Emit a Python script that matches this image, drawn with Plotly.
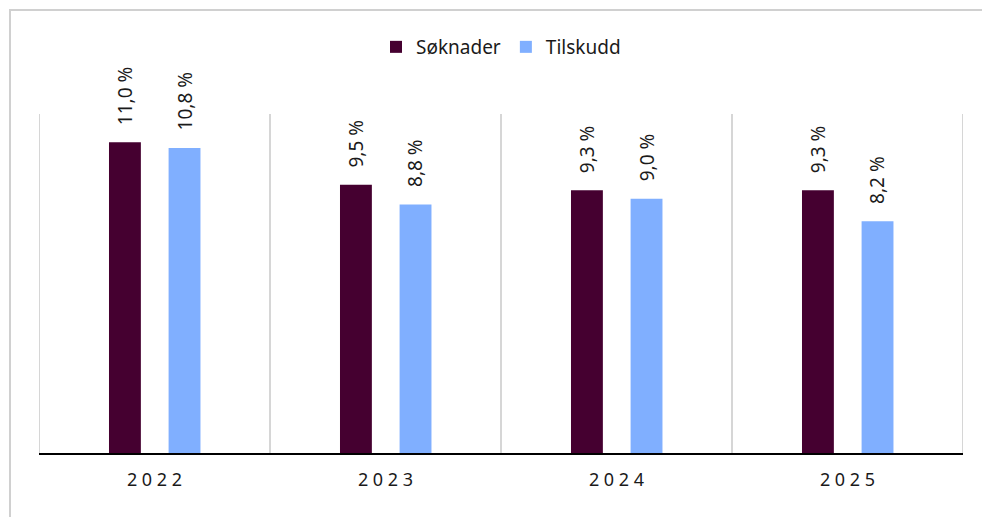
import plotly.graph_objects as go

categories = ["2022", "2023", "2024", "2025"]
tick_labels = ["2 0 2 2", "2 0 2 3", "2 0 2 4", "2 0 2 5"]
soknader = [11.0, 9.5, 9.3, 9.3]
tilskudd = [10.8, 8.8, 9.0, 8.2]
series_names = ["Søknader", "Tilskudd"]
colors = ["#450030", "#80AFFF"]

W, H = 982, 517
ML, MR, MT, MB = 39, 19, 114, 64
FONT = "Noto Sans"

bar_w = 0.138
offsets = [-0.197, 0.061]
xs = list(range(len(categories)))

fig = go.Figure()
annotations = []
for name, vals, col, off in zip(series_names, [soknader, tilskudd], colors, offsets):
    fig.add_trace(go.Bar(
        x=xs, y=vals, name=name, marker=dict(color=col, line=dict(width=0)),
        width=bar_w, offset=off,
    ))
    for i, v in zip(xs, vals):
        annotations.append(dict(
            x=i + off + bar_w / 2, y=v, xref="x", yref="y",
            text=f"{v:.1f}".replace(".", ",") + " %",
            textangle=-90, showarrow=False, yanchor="bottom", xanchor="center",
            yshift=15, font=dict(family=FONT, size=19, color="#1a1a1a"),
        ))

shapes = []
for k in range(len(categories) + 1):
    shapes.append(dict(type="line", xref="x", yref="paper", x0=k - 0.5, x1=k - 0.5,
                       y0=0, y1=1, line=dict(color="#c8c8c8", width=1.5), layer="below"))
pw = W - ML - MR
ph = H - MT - MB
shapes.append(dict(type="rect", xref="paper", yref="paper",
                   x0=(10 - ML) / pw, x1=(995 - ML) / pw,
                   y0=-(530 - (H - MB)) / ph, y1=((H - MB) - 10) / ph,
                   line=dict(color="#d0d0d0", width=2), fillcolor="rgba(0,0,0,0)", layer="below"))

fig.update_layout(
    width=W, height=H, margin=dict(l=ML, r=MR, t=MT, b=MB),
    paper_bgcolor="white", plot_bgcolor="white",
    font=dict(family=FONT, color="#1a1a1a"),
    barmode="group", showlegend=True,
    legend=dict(orientation="h", x=0.5, xanchor="center", y=((H - MB) - 47) / ph, yanchor="middle",
                font=dict(family=FONT, size=19, color="#1a1a1a"), itemclick=False),
    xaxis=dict(range=[-0.5, len(categories) - 0.5], tickvals=xs, ticktext=tick_labels,
               showgrid=False, zeroline=False, showline=True, linecolor="black", linewidth=2,
               ticks="", ticklabelstandoff=9, tickfont=dict(family=FONT, size=18, color="#1a1a1a")),
    yaxis=dict(range=[0, 12], visible=False, showgrid=False, zeroline=False),
    annotations=annotations, shapes=shapes,
)

fig.write_html("out.html", config={"displayModeBar": False},
               post_script="document.body.style.margin='0';document.body.style.overflow='hidden';")
